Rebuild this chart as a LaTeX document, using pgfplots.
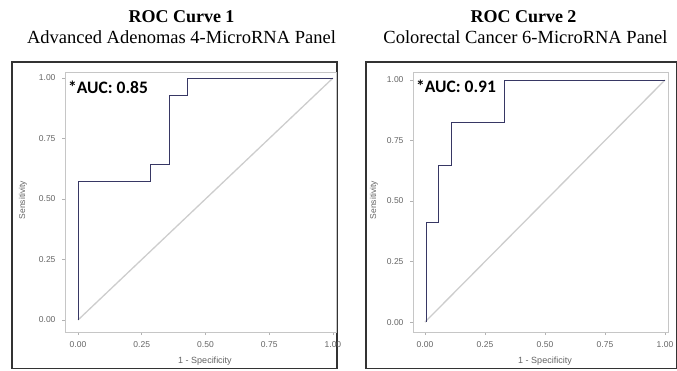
\documentclass[border=0pt]{standalone}
\usepackage{pgfplots}
\pgfplotsset{compat=1.18}
\usepackage{fontspec}
\setmainfont{Liberation Serif}
\setsansfont{Liberation Sans}
\newfontfamily\auc{Carlito}
\definecolor{roc}{RGB}{55,55,100}
\definecolor{diag}{RGB}{205,205,205}
\definecolor{tickc}{RGB}{100,100,100}
\pgfplotsset{
  rocaxis/.style={
    scale only axis, anchor=south west,
    height=260pt,
    xtick={0,0.25,0.5,0.75,1}, ytick={0,0.25,0.5,0.75,1},
    xtick pos=bottom, ytick pos=left, tick align=outside,
    major tick length=3pt,
    tick style={color=gray!60, line width=0.5pt},
    axis line style={color=gray!45, line width=0.7pt},
    ticklabel style={font=\sffamily\fontsize{8.5}{9}\selectfont, text=tickc},
    /pgf/number format/.cd, fixed, fixed zerofill, precision=2, assume math mode=true,
    /pgfplots/.cd,
    xticklabel style={yshift=-3pt},
    yticklabel style={xshift=-3pt},
    clip=false,
  }
}
\begin{document}
\begin{tikzpicture}
\path[use as bounding box] (0pt,0pt) rectangle (677pt,370pt);
% frames
\draw[line width=1.6pt, color=black!80] (12pt,1.5pt) rectangle (337pt,308pt);
\draw[line width=1.6pt, color=black!80] (366pt,1.5pt) rectangle (676.5pt,308pt);
% titles
\node[anchor=base, font=\bfseries\fontsize{18}{20}\selectfont] at (181.5pt,347.5pt) {ROC Curve 1};
\node[anchor=base, font=\fontsize{18.5}{20}\selectfont] at (181.5pt,326.5pt) {Advanced Adenomas 4-MicroRNA Panel};
\node[anchor=base, font=\bfseries\fontsize{18}{20}\selectfont] at (523.5pt,347.5pt) {ROC Curve 2};
\node[anchor=base, font=\fontsize{18.5}{20}\selectfont] at (525.5pt,326.5pt) {Colorectal Cancer 6-MicroRNA Panel};
% left axis
\begin{axis}[rocaxis, at={(65pt,38pt)}, width=271pt,
  xmin=-0.051, xmax=1.012, ymin=-0.0496, ymax=1.025]
\addplot[diag, line width=1.3pt] coordinates {(0,0) (1,1)};
\addplot[roc, line width=0.9pt] coordinates {
(0,0) (0,0.571) (0.286,0.571) (0.286,0.643) (0.357,0.643) (0.357,0.929)
(0.429,0.929) (0.429,1) (1,1)};
\end{axis}
% right axis
\begin{axis}[rocaxis, at={(413pt,38pt)}, width=255pt,
  xmin=-0.05, xmax=1.0125, ymin=-0.041, ymax=1.033]
\addplot[diag, line width=1.3pt] coordinates {(0,0) (1,1)};
\addplot[roc, line width=0.9pt] coordinates {
(0.008,0) (0.008,0.412) (0.056,0.412) (0.056,0.647) (0.111,0.647) (0.111,0.824)
(0.333,0.824) (0.333,1) (1,1)};
\end{axis}
% axis labels
\node[rotate=90, font=\sffamily\fontsize{8.5}{9}\selectfont, text=tickc] at (23pt,170pt) {Sensitivity};
\node[font=\sffamily\fontsize{9}{10}\selectfont, text=tickc] at (205pt,8.5pt) {1 - Specificity};
\node[rotate=90, font=\sffamily\fontsize{8.5}{9}\selectfont, text=tickc] at (374pt,170pt) {Sensitivity};
\node[font=\sffamily\fontsize{9}{10}\selectfont, text=tickc] at (545pt,8.5pt) {1 - Specificity};
% AUC
\node[anchor=base west, inner sep=0pt, font=\auc\bfseries\fontsize{17.5}{18}\selectfont] at (68pt,276pt) {*AUC: 0.85};
\node[anchor=base west, inner sep=0pt, font=\auc\bfseries\fontsize{17.5}{18}\selectfont] at (416pt,277pt) {*AUC: 0.91};
\end{tikzpicture}
\end{document}
